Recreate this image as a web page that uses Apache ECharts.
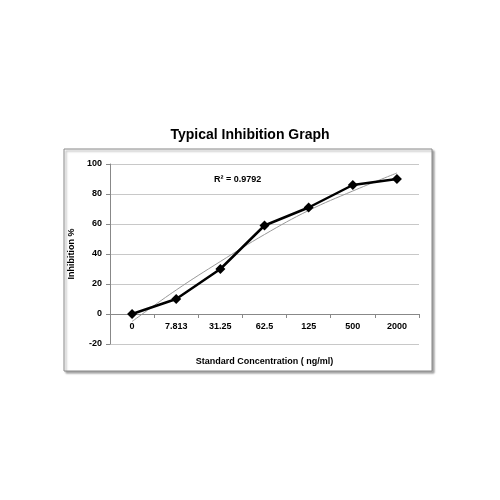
<!DOCTYPE html>
<html><head><meta charset="utf-8">
<script src="https://cdn.jsdelivr.net/npm/echarts@6/dist/echarts.min.js"></script>
<style>html,body{margin:0;padding:0;background:#fff}#c{width:500px;height:500px}</style>
</head><body><div id="c"></div>
<script>
var categories = ['0', '7.813', '31.25', '62.5', '125', '500', '2000'];
var inhibition = [0, 10, 30, 59, 71, 86, 90];
var trend = [-5, 16, 35, 53, 69, 82, 94];

var chart = echarts.init(document.getElementById('c'));
chart.setOption({
    animation: false,
    textStyle: { fontFamily: 'Liberation Sans, Arial, sans-serif' },
    title: {
        text: 'Typical Inhibition Graph', left: 'center', top: 123,
        textStyle: { fontSize: 14, fontWeight: 'bold', color: '#000' }
    },
    graphic: [{
        type: 'rect', z: -10,
        shape: { x: 64, y: 149, width: 368, height: 222 },
        style: { fill: '#fff', stroke: '#888', lineWidth: 1, shadowColor: 'rgba(0,0,0,0.35)', shadowOffsetX: 2, shadowOffsetY: 2, shadowBlur: 2 }
    }, {
        type: 'text', left: 214, top: 175,
        style: { text: 'R² = 0.9792', font: 'bold 9px Liberation Sans, Arial', fill: '#000' }
    }],
    grid: { left: 110, right: 81, top: 164, bottom: 156 },
    xAxis: {
        type: 'category', data: categories, boundaryGap: true,
        name: 'Standard Concentration ( ng/ml)', nameLocation: 'middle', nameGap: 13,
        nameTextStyle: { fontSize: 9, fontWeight: 'bold', color: '#000' },
        axisLine: { onZero: true, lineStyle: { color: '#888' } },
        axisTick: { show: true, length: 4, lineStyle: { color: '#888' } },
        axisLabel: { fontSize: 9, fontWeight: 'bold', color: '#000', margin: -22 }
    },
    yAxis: {
        type: 'value', min: -20, max: 100, interval: 20,
        name: 'Inhibition %', nameLocation: 'middle', nameGap: 20,
        nameTextStyle: { fontSize: 9, fontWeight: 'bold', color: '#000' },
        axisLine: { show: true, lineStyle: { color: '#888' } },
        axisTick: { show: true, length: 4, lineStyle: { color: '#888' } },
        axisLabel: { fontSize: 9, fontWeight: 'bold', color: '#000' },
        splitLine: { lineStyle: { color: '#c8c8c8' } }
    },
    series: [{
        type: 'line', data: trend, smooth: 0.4, symbol: 'none', z: 1,
        lineStyle: { color: '#999', width: 1 }
    }, {
        type: 'line', data: inhibition, symbol: 'diamond', symbolSize: 10, z: 2,
        lineStyle: { color: '#000', width: 2.5 },
        itemStyle: { color: '#000' }
    }]
});
</script></body></html>
